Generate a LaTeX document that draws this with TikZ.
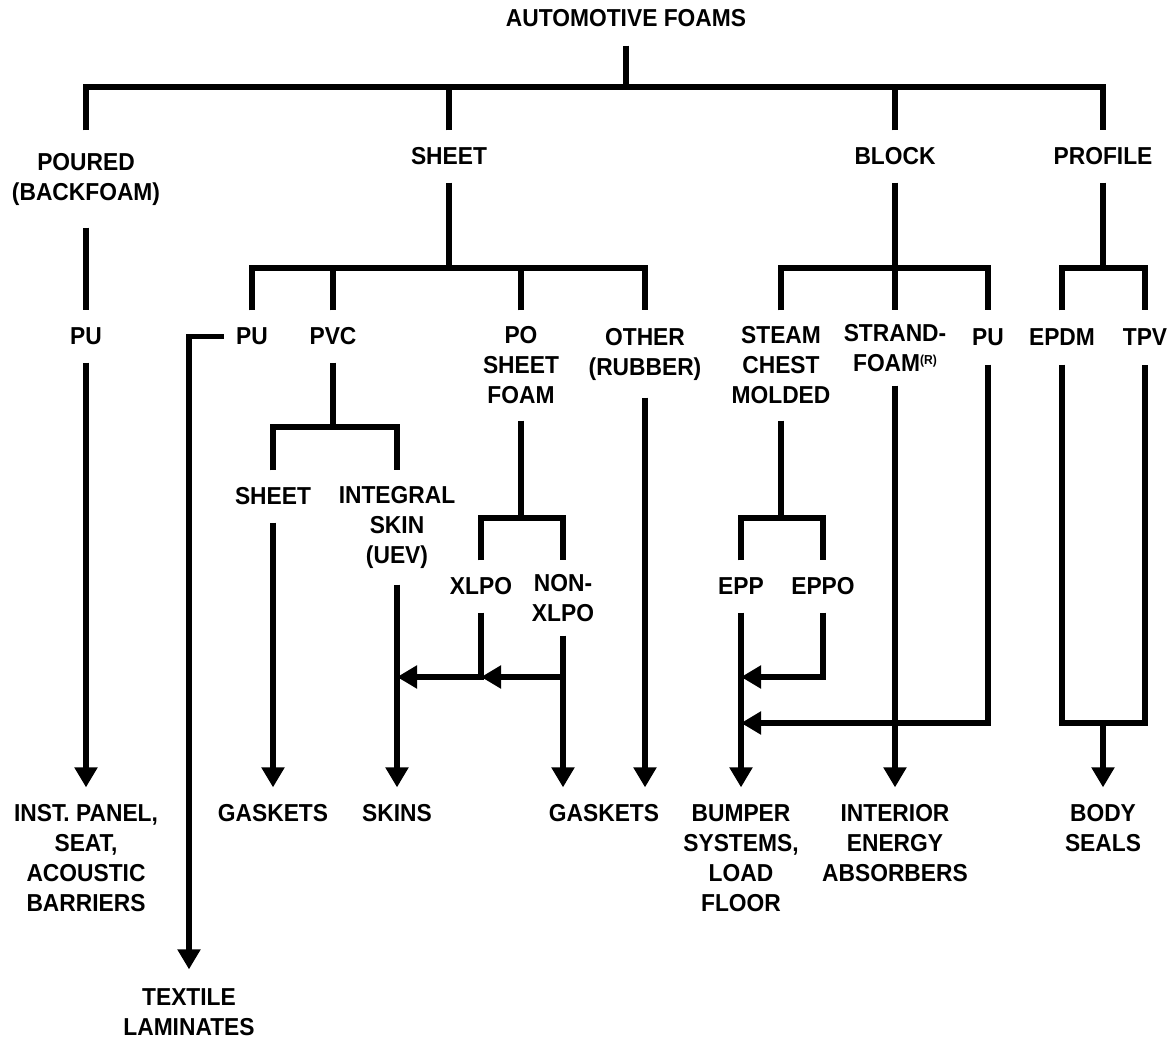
\documentclass[tikz,border=0pt]{standalone}
\usepackage{fontspec}
\setmainfont{Liberation Sans}[FakeStretch=0.93]
\usetikzlibrary{arrows.meta,calc}
\begin{document}
\begin{tikzpicture}[x=1pt,y=-1pt,line width=5.2pt,line join=miter,
  lbl/.style={font=\fontsize{24.5}{30}\selectfont\bfseries, align=center, inner sep=0pt, anchor=center},
  arr/.style={-{Triangle[length=20pt,width=22pt]}}]
\fill[white] (0,0) rectangle (1172,1040);
\useasboundingbox (0,0) rectangle (1172,1040);

% level 0
\node[lbl, minimum height=50pt] (root) at (626,18) {AUTOMOTIVE FOAMS};
% level 1
\node[lbl, minimum height=92pt] (poured) at (86,179) {POURED\\(BACKFOAM)};
\node[lbl, minimum height=47pt] (sheet) at (449,156.5) {SHEET};
\node[lbl, minimum height=47pt] (block) at (895,156.5) {BLOCK};
\node[lbl, minimum height=47pt] (profile) at (1103,156.5) {PROFILE};
% level 2
\node[lbl, minimum height=47pt] (puA) at (86,336.5) {PU};
\node[lbl, minimum height=47pt] (puS) at (252,336.5) {PU};
\node[lbl, minimum height=47pt] (pvc) at (333,336.5) {PVC};
\node[lbl, minimum height=105pt] (po) at (521,365.5) {PO\\SHEET\\FOAM};
\node[lbl, minimum height=82pt] (other) at (645,354) {OTHER\\(RUBBER)};
\node[lbl, minimum height=105pt] (steam) at (781,365.5) {STEAM\\CHEST\\MOLDED};
\node[lbl, minimum height=70pt] (strand) at (895,348) {STRAND-\\FOAM\raisebox{7pt}{\fontsize{13}{13}\selectfont(R)}};
\node[lbl, minimum height=49pt] (puB) at (988,337.5) {PU};
\node[lbl, minimum height=49pt] (epdm) at (1062,337.5) {EPDM};
\node[lbl, minimum height=49pt] (tpv) at (1145,337.5) {TPV};
% level 3
\node[lbl, minimum height=47pt] (sheet2) at (273,496.5) {SHEET};
\node[lbl, minimum height=109pt] (integral) at (397,527.5) {INTEGRAL\\SKIN\\(UEV)};
\node[lbl, minimum height=47pt] (xlpo) at (481,586.5) {XLPO};
\node[lbl, minimum height=70pt] (nonx) at (563,598) {NON-\\XLPO};
\node[lbl, minimum height=47pt] (epp) at (741,586.5) {EPP};
\node[lbl, minimum height=47pt] (eppo) at (823,586.5) {EPPO};
% end uses
\node[lbl, minimum height=136pt] (inst) at (86,858) {INST. PANEL,\\SEAT,\\ACOUSTIC\\BARRIERS};
\node[lbl, minimum height=46pt] (gask1) at (273,813) {GASKETS};
\node[lbl, minimum height=46pt] (skins) at (397,813) {SKINS};
\node[lbl, minimum height=46pt] (gask2) at (604,813) {GASKETS};
\node[lbl, minimum height=136pt] (bumper) at (741,858) {BUMPER\\SYSTEMS,\\LOAD\\FLOOR};
\node[lbl, minimum height=106pt] (interior) at (895,843) {INTERIOR\\ENERGY\\ABSORBERS};
\node[lbl, minimum height=76pt] (body) at (1103,828) {BODY\\SEALS};
\node[lbl, minimum height=80pt] (textile) at (189,1012) {TEXTILE\\LAMINATES};

% junction coordinates
\coordinate (b0) at (626,87);
\coordinate (b1) at (449,268);
\coordinate (b2) at (895,268);
\coordinate (b3) at (1103,268);
\coordinate (b4) at (333,427);
\coordinate (b5) at (521,518);
\coordinate (b6) at (781,518);
\coordinate (b7) at (1103,723);
\coordinate (m1) at (563,677);
\coordinate (m2) at (741,677);
\coordinate (m3) at (741,723);

% top level
\draw (root.south) -- (b0);
\draw (poured.north) |- (b0) -| (profile.north);
\draw (sheet.north) -- (sheet.north |- b0);
\draw (block.north) -- (block.north |- b0);

% poured
\draw (poured.south) -- (puA.north);
\draw[arr] (puA.south) -- (inst.north);

% sheet
\draw (sheet.south) -- (b1);
\draw (puS.north) |- (b1) -| (other.north);
\draw (pvc.north) -- (pvc.north |- b1);
\draw (po.north) -- (po.north |- b1);
\draw[arr] ([xshift=-10pt]puS.west) -| (textile.north);

% pvc
\draw (pvc.south) -- (b4);
\draw (sheet2.north) |- (b4) -| (integral.north);
\draw[arr] (sheet2.south) -- (gask1.north);
\draw[arr] (integral.south) -- (skins.north);

% po
\draw (po.south) -- (b5);
\draw (xlpo.north) |- (b5) -| (nonx.north);
\draw[arr] (xlpo.south) |- (integral.south |- m1);
\draw[arr] (m1) -- (xlpo.south |- m1);
\draw[arr] (nonx.south) -- (nonx.south |- gask2.north);
\draw[arr] (other.south) -- (other.south |- gask2.north);

% block
\draw (block.south) -- (strand.north);
\draw (steam.north) |- (b2) -| (puB.north);
\draw (steam.south) -- (b6);
\draw (epp.north) |- (b6) -| (eppo.north);
\draw[arr] (eppo.south) |- (m2);
\draw[arr] (puB.south) |- (m3);
\draw[arr] (epp.south) -- (bumper.north);
\draw[arr] (strand.south) -- (interior.north);

% profile
\draw (profile.south) -- (b3);
\draw (epdm.north) |- (b3) -| (tpv.north);
\draw (epdm.south) |- (b7) -| (tpv.south);
\draw[arr] (b7) -- (body.north);
\end{tikzpicture}
\end{document}
